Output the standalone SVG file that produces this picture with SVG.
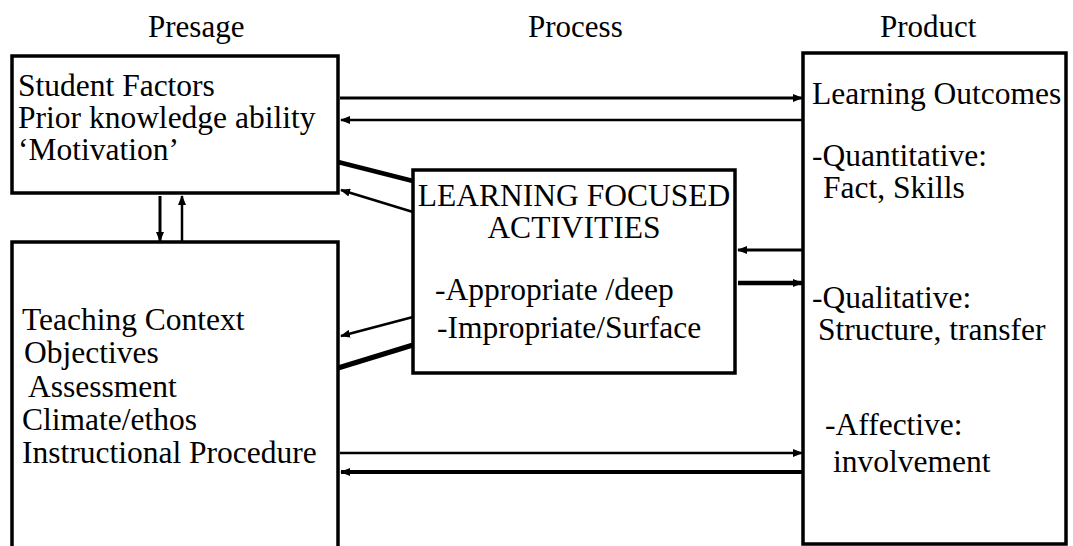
<svg xmlns="http://www.w3.org/2000/svg" width="1073" height="546" viewBox="0 0 1073 546">
  <style>
    text { font-family: "Liberation Serif", "Times New Roman", serif; font-size: 31.5px; fill: #000; }
    .title { font-size: 31px; }
    .box { fill: #fff; stroke: #000; stroke-width: 3.5; }
    .edge { fill: none; stroke: #000; }
  </style>
  <defs>
    <marker id="head" markerUnits="userSpaceOnUse" markerWidth="10" markerHeight="8" refX="9" refY="4" orient="auto">
      <path d="M0,0 L10,4 L0,8 Z" fill="#000"/>
    </marker>
  </defs>

  <!-- column headings -->
  <text class="title" x="148" y="37">Presage</text>
  <text class="title" x="528" y="37">Process</text>
  <text class="title" x="880" y="37">Product</text>

  <!-- connectors -->
  <g id="connectors">
    <line class="edge" x1="340" y1="98" x2="802" y2="98" stroke-width="3" marker-end="url(#head)"/>
    <line class="edge" x1="802" y1="120" x2="341" y2="120" stroke-width="2.5" marker-end="url(#head)"/>
    <line class="edge" x1="338" y1="162" x2="413" y2="181" stroke-width="4.5"/>
    <line class="edge" x1="413" y1="212" x2="341" y2="190" stroke-width="2.5" marker-end="url(#head)"/>
    <line class="edge" x1="160" y1="196" x2="160" y2="241" stroke-width="3" marker-end="url(#head)"/>
    <line class="edge" x1="182" y1="242" x2="182" y2="196" stroke-width="2.5" marker-end="url(#head)"/>
    <line class="edge" x1="802" y1="250" x2="738" y2="250" stroke-width="3" marker-end="url(#head)"/>
    <line class="edge" x1="738" y1="283" x2="802" y2="283" stroke-width="4.5" marker-end="url(#head)"/>
    <line class="edge" x1="413" y1="317" x2="341" y2="336" stroke-width="2.5" marker-end="url(#head)"/>
    <line class="edge" x1="413" y1="345" x2="338" y2="368" stroke-width="5"/>
    <line class="edge" x1="340" y1="453" x2="802" y2="453" stroke-width="2.5" marker-end="url(#head)"/>
    <line class="edge" x1="802" y1="472" x2="341" y2="472" stroke-width="4" marker-end="url(#head)"/>
  </g>

  <!-- student factors -->
  <g id="student-factors">
    <rect class="box" x="12" y="56" width="326" height="137"/>
    <text x="18" y="96">Student Factors</text>
    <text x="18" y="128">Prior knowledge ability</text>
    <text x="18" y="160">‘Motivation’</text>
  </g>

  <!-- teaching context (runs off the bottom edge) -->
  <g id="teaching-context">
    <rect class="box" x="12" y="242" width="326" height="320"/>
    <text x="22" y="330">Teaching Context</text>
    <text x="24" y="363">Objectives</text>
    <text x="28" y="397">Assessment</text>
    <text x="22" y="430">Climate/ethos</text>
    <text x="22" y="463">Instructional Procedure</text>
  </g>

  <!-- learning focused activities -->
  <g id="learning-activities">
    <rect class="box" x="413" y="170" width="322" height="203"/>
    <text x="574" y="206" text-anchor="middle">LEARNING FOCUSED</text>
    <text x="574" y="238" text-anchor="middle">ACTIVITIES</text>
    <text x="435" y="300">-Appropriate /deep</text>
    <text x="437" y="338">-Impropriate/Surface</text>
  </g>

  <!-- learning outcomes -->
  <g id="learning-outcomes">
    <rect class="box" x="803" y="53" width="263" height="491"/>
    <text x="812" y="104">Learning Outcomes</text>
    <text x="812" y="166">-Quantitative:</text>
    <text x="823" y="198">Fact, Skills</text>
    <text x="812" y="308">-Qualitative:</text>
    <text x="818" y="340">Structure, transfer</text>
    <text x="825" y="435">-Affective:</text>
    <text x="833" y="472">involvement</text>
  </g>
</svg>
